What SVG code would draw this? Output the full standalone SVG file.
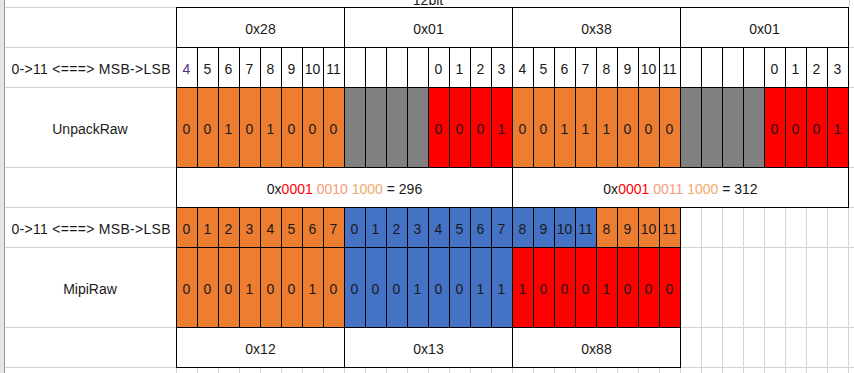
<svg xmlns="http://www.w3.org/2000/svg" width="854" height="373" viewBox="0 0 854 373">
<style>
.grid{stroke:#d4d4d4;stroke-width:1;fill:none}
.c{stroke:#000;stroke-width:1}
.w{fill:#fff}.o{fill:#ED7D31}.g{fill:#808080}.r{fill:#FF0000}.b{fill:#4472C4}
.t{font-family:"Liberation Sans","Noto Sans",sans-serif;font-size:14px;text-anchor:middle;fill:#1a1a1a}
</style>
<rect width="854" height="373" fill="#fff"/>
<g id="sheet-grid">
<rect x="0" y="0" width="4" height="373" fill="#e6e6e6"/>
<line x1="4.5" y1="0" x2="4.5" y2="373" stroke="#9a9a9a"/>
<path class="grid" d="M5 7.5H176M5 47.5H176M5 87.5H176M5 167.5H176M5 207.5H176M5 247.5H176M5 327.5H176M5 367.5H176
M849 47.5H854M849 87.5H854M849 167.5H854M849 207.5H854M680 247.5H854M680 327.5H854M680 367.5H854
M849.5 0V7M701.5 207V373M722.5 207V373M743.5 207V373M764.5 207V373M785.5 207V373M806.5 207V373M827.5 207V373M848.5 207V373
M176.5 367V373M197.5 367V373M218.5 367V373M239.5 367V373M260.5 367V373M281.5 367V373M302.5 367V373M323.5 367V373M344.5 367V373M365.5 367V373M386.5 367V373M407.5 367V373M428.5 367V373M449.5 367V373M470.5 367V373M491.5 367V373M512.5 367V373M533.5 367V373M554.5 367V373M575.5 367V373M596.5 367V373M617.5 367V373M638.5 367V373M659.5 367V373M680.5 367V373"/>
</g>
<text class="t" x="428" y="5">12bit</text>
<g id="labels">
<text class="t" x="91" y="74" textLength="159" lengthAdjust="spacing">0-&gt;11 &lt;===&gt; MSB-&gt;LSB</text>
<text class="t" x="90" y="134">UnpackRaw</text>
<text class="t" x="91" y="234" textLength="159" lengthAdjust="spacing">0-&gt;11 &lt;===&gt; MSB-&gt;LSB</text>
<text class="t" x="90" y="294">MipiRaw</text>
</g>
<g id="row-bytes">
<rect class="c w" x="176.5" y="7.5" width="168" height="40"/>
<rect class="c w" x="344.5" y="7.5" width="168" height="40"/>
<rect class="c w" x="512.5" y="7.5" width="168" height="40"/>
<rect class="c w" x="680.5" y="7.5" width="168" height="40"/>
<text class="t" x="260.5" y="34">0x28</text>
<text class="t" x="428.5" y="34">0x01</text>
<text class="t" x="596.5" y="34">0x38</text>
<text class="t" x="764.5" y="34">0x01</text>
</g>
<g id="row-bitindex">
<rect class="c w" x="176.5" y="47.5" width="21" height="40"/><rect class="c w" x="197.5" y="47.5" width="21" height="40"/><rect class="c w" x="218.5" y="47.5" width="21" height="40"/><rect class="c w" x="239.5" y="47.5" width="21" height="40"/><rect class="c w" x="260.5" y="47.5" width="21" height="40"/><rect class="c w" x="281.5" y="47.5" width="21" height="40"/><rect class="c w" x="302.5" y="47.5" width="21" height="40"/><rect class="c w" x="323.5" y="47.5" width="21" height="40"/>
<rect class="c w" x="344.5" y="47.5" width="21" height="40"/><rect class="c w" x="365.5" y="47.5" width="21" height="40"/><rect class="c w" x="386.5" y="47.5" width="21" height="40"/><rect class="c w" x="407.5" y="47.5" width="21" height="40"/><rect class="c w" x="428.5" y="47.5" width="21" height="40"/><rect class="c w" x="449.5" y="47.5" width="21" height="40"/><rect class="c w" x="470.5" y="47.5" width="21" height="40"/><rect class="c w" x="491.5" y="47.5" width="21" height="40"/>
<rect class="c w" x="512.5" y="47.5" width="21" height="40"/><rect class="c w" x="533.5" y="47.5" width="21" height="40"/><rect class="c w" x="554.5" y="47.5" width="21" height="40"/><rect class="c w" x="575.5" y="47.5" width="21" height="40"/><rect class="c w" x="596.5" y="47.5" width="21" height="40"/><rect class="c w" x="617.5" y="47.5" width="21" height="40"/><rect class="c w" x="638.5" y="47.5" width="21" height="40"/><rect class="c w" x="659.5" y="47.5" width="21" height="40"/>
<rect class="c w" x="680.5" y="47.5" width="21" height="40"/><rect class="c w" x="701.5" y="47.5" width="21" height="40"/><rect class="c w" x="722.5" y="47.5" width="21" height="40"/><rect class="c w" x="743.5" y="47.5" width="21" height="40"/><rect class="c w" x="764.5" y="47.5" width="21" height="40"/><rect class="c w" x="785.5" y="47.5" width="21" height="40"/><rect class="c w" x="806.5" y="47.5" width="21" height="40"/><rect class="c w" x="827.5" y="47.5" width="21" height="40"/>
<text class="t" x="186.5" y="74" style="fill:#5B2C83">4</text><text class="t" x="207.5" y="74">5</text><text class="t" x="228.5" y="74">6</text><text class="t" x="249.5" y="74">7</text><text class="t" x="270.5" y="74">8</text><text class="t" x="291.5" y="74">9</text><text class="t" x="312.5" y="74">10</text><text class="t" x="333.5" y="74">11</text>
<text class="t" x="438.5" y="74">0</text><text class="t" x="459.5" y="74">1</text><text class="t" x="480.5" y="74">2</text><text class="t" x="501.5" y="74">3</text>
<text class="t" x="522.5" y="74">4</text><text class="t" x="543.5" y="74">5</text><text class="t" x="564.5" y="74">6</text><text class="t" x="585.5" y="74">7</text><text class="t" x="606.5" y="74">8</text><text class="t" x="627.5" y="74">9</text><text class="t" x="648.5" y="74">10</text><text class="t" x="669.5" y="74">11</text>
<text class="t" x="774.5" y="74">0</text><text class="t" x="795.5" y="74">1</text><text class="t" x="816.5" y="74">2</text><text class="t" x="837.5" y="74">3</text>
</g>
<g id="row-unpackraw">
<rect class="c o" x="176.5" y="87.5" width="21" height="80"/><rect class="c o" x="197.5" y="87.5" width="21" height="80"/><rect class="c o" x="218.5" y="87.5" width="21" height="80"/><rect class="c o" x="239.5" y="87.5" width="21" height="80"/><rect class="c o" x="260.5" y="87.5" width="21" height="80"/><rect class="c o" x="281.5" y="87.5" width="21" height="80"/><rect class="c o" x="302.5" y="87.5" width="21" height="80"/><rect class="c o" x="323.5" y="87.5" width="21" height="80"/>
<rect class="c g" x="344.5" y="87.5" width="21" height="80"/><rect class="c g" x="365.5" y="87.5" width="21" height="80"/><rect class="c g" x="386.5" y="87.5" width="21" height="80"/><rect class="c g" x="407.5" y="87.5" width="21" height="80"/>
<rect class="c r" x="428.5" y="87.5" width="21" height="80"/><rect class="c r" x="449.5" y="87.5" width="21" height="80"/><rect class="c r" x="470.5" y="87.5" width="21" height="80"/><rect class="c r" x="491.5" y="87.5" width="21" height="80"/>
<rect class="c o" x="512.5" y="87.5" width="21" height="80"/><rect class="c o" x="533.5" y="87.5" width="21" height="80"/><rect class="c o" x="554.5" y="87.5" width="21" height="80"/><rect class="c o" x="575.5" y="87.5" width="21" height="80"/><rect class="c o" x="596.5" y="87.5" width="21" height="80"/><rect class="c o" x="617.5" y="87.5" width="21" height="80"/><rect class="c o" x="638.5" y="87.5" width="21" height="80"/><rect class="c o" x="659.5" y="87.5" width="21" height="80"/>
<rect class="c g" x="680.5" y="87.5" width="21" height="80"/><rect class="c g" x="701.5" y="87.5" width="21" height="80"/><rect class="c g" x="722.5" y="87.5" width="21" height="80"/><rect class="c g" x="743.5" y="87.5" width="21" height="80"/>
<rect class="c r" x="764.5" y="87.5" width="21" height="80"/><rect class="c r" x="785.5" y="87.5" width="21" height="80"/><rect class="c r" x="806.5" y="87.5" width="21" height="80"/><rect class="c r" x="827.5" y="87.5" width="21" height="80"/>
<text class="t" x="186.5" y="134">0</text><text class="t" x="207.5" y="134">0</text><text class="t" x="228.5" y="134">1</text><text class="t" x="249.5" y="134">0</text><text class="t" x="270.5" y="134">1</text><text class="t" x="291.5" y="134">0</text><text class="t" x="312.5" y="134">0</text><text class="t" x="333.5" y="134">0</text>
<text class="t" x="438.5" y="134">0</text><text class="t" x="459.5" y="134">0</text><text class="t" x="480.5" y="134">0</text><text class="t" x="501.5" y="134">1</text>
<text class="t" x="522.5" y="134">0</text><text class="t" x="543.5" y="134">0</text><text class="t" x="564.5" y="134">1</text><text class="t" x="585.5" y="134">1</text><text class="t" x="606.5" y="134">1</text><text class="t" x="627.5" y="134">0</text><text class="t" x="648.5" y="134">0</text><text class="t" x="669.5" y="134">0</text>
<text class="t" x="774.5" y="134">0</text><text class="t" x="795.5" y="134">0</text><text class="t" x="816.5" y="134">0</text><text class="t" x="837.5" y="134">1</text>
</g>
<g id="row-values">
<rect class="c w" x="176.5" y="167.5" width="336" height="40"/>
<rect class="c w" x="512.5" y="167.5" width="336" height="40"/>
<text class="t" x="344.5" y="194">0x<tspan style="fill:#FF0000">0001</tspan> <tspan style="fill:#F79A7A">0010</tspan> <tspan style="fill:#F4A76A">1000</tspan> = 296</text>
<text class="t" x="680.5" y="194">0x<tspan style="fill:#FF0000">0001</tspan> <tspan style="fill:#F79A7A">0011</tspan> <tspan style="fill:#F4A76A">1000</tspan> = 312</text>
</g>
<g id="row-mipi-index">
<rect class="c o" x="176.5" y="207.5" width="21" height="40"/><rect class="c o" x="197.5" y="207.5" width="21" height="40"/><rect class="c o" x="218.5" y="207.5" width="21" height="40"/><rect class="c o" x="239.5" y="207.5" width="21" height="40"/><rect class="c o" x="260.5" y="207.5" width="21" height="40"/><rect class="c o" x="281.5" y="207.5" width="21" height="40"/><rect class="c o" x="302.5" y="207.5" width="21" height="40"/><rect class="c o" x="323.5" y="207.5" width="21" height="40"/>
<rect class="c b" x="344.5" y="207.5" width="21" height="40"/><rect class="c b" x="365.5" y="207.5" width="21" height="40"/><rect class="c b" x="386.5" y="207.5" width="21" height="40"/><rect class="c b" x="407.5" y="207.5" width="21" height="40"/><rect class="c b" x="428.5" y="207.5" width="21" height="40"/><rect class="c b" x="449.5" y="207.5" width="21" height="40"/><rect class="c b" x="470.5" y="207.5" width="21" height="40"/><rect class="c b" x="491.5" y="207.5" width="21" height="40"/>
<rect class="c b" x="512.5" y="207.5" width="21" height="40"/><rect class="c b" x="533.5" y="207.5" width="21" height="40"/><rect class="c b" x="554.5" y="207.5" width="21" height="40"/><rect class="c b" x="575.5" y="207.5" width="21" height="40"/>
<rect class="c o" x="596.5" y="207.5" width="21" height="40"/><rect class="c o" x="617.5" y="207.5" width="21" height="40"/><rect class="c o" x="638.5" y="207.5" width="21" height="40"/><rect class="c o" x="659.5" y="207.5" width="21" height="40"/>
<text class="t" x="186.5" y="234">0</text><text class="t" x="207.5" y="234">1</text><text class="t" x="228.5" y="234">2</text><text class="t" x="249.5" y="234">3</text><text class="t" x="270.5" y="234">4</text><text class="t" x="291.5" y="234">5</text><text class="t" x="312.5" y="234">6</text><text class="t" x="333.5" y="234">7</text>
<text class="t" x="354.5" y="234">0</text><text class="t" x="375.5" y="234">1</text><text class="t" x="396.5" y="234">2</text><text class="t" x="417.5" y="234">3</text><text class="t" x="438.5" y="234">4</text><text class="t" x="459.5" y="234">5</text><text class="t" x="480.5" y="234">6</text><text class="t" x="501.5" y="234">7</text>
<text class="t" x="522.5" y="234">8</text><text class="t" x="543.5" y="234">9</text><text class="t" x="564.5" y="234">10</text><text class="t" x="585.5" y="234">11</text>
<text class="t" x="606.5" y="234">8</text><text class="t" x="627.5" y="234">9</text><text class="t" x="648.5" y="234">10</text><text class="t" x="669.5" y="234">11</text>
</g>
<g id="row-mipiraw">
<rect class="c o" x="176.5" y="247.5" width="21" height="80"/><rect class="c o" x="197.5" y="247.5" width="21" height="80"/><rect class="c o" x="218.5" y="247.5" width="21" height="80"/><rect class="c o" x="239.5" y="247.5" width="21" height="80"/><rect class="c o" x="260.5" y="247.5" width="21" height="80"/><rect class="c o" x="281.5" y="247.5" width="21" height="80"/><rect class="c o" x="302.5" y="247.5" width="21" height="80"/><rect class="c o" x="323.5" y="247.5" width="21" height="80"/>
<rect class="c b" x="344.5" y="247.5" width="21" height="80"/><rect class="c b" x="365.5" y="247.5" width="21" height="80"/><rect class="c b" x="386.5" y="247.5" width="21" height="80"/><rect class="c b" x="407.5" y="247.5" width="21" height="80"/><rect class="c b" x="428.5" y="247.5" width="21" height="80"/><rect class="c b" x="449.5" y="247.5" width="21" height="80"/><rect class="c b" x="470.5" y="247.5" width="21" height="80"/><rect class="c b" x="491.5" y="247.5" width="21" height="80"/>
<rect class="c r" x="512.5" y="247.5" width="21" height="80"/><rect class="c r" x="533.5" y="247.5" width="21" height="80"/><rect class="c r" x="554.5" y="247.5" width="21" height="80"/><rect class="c r" x="575.5" y="247.5" width="21" height="80"/><rect class="c r" x="596.5" y="247.5" width="21" height="80"/><rect class="c r" x="617.5" y="247.5" width="21" height="80"/><rect class="c r" x="638.5" y="247.5" width="21" height="80"/><rect class="c r" x="659.5" y="247.5" width="21" height="80"/>
<text class="t" x="186.5" y="294">0</text><text class="t" x="207.5" y="294">0</text><text class="t" x="228.5" y="294">0</text><text class="t" x="249.5" y="294">1</text><text class="t" x="270.5" y="294">0</text><text class="t" x="291.5" y="294">0</text><text class="t" x="312.5" y="294">1</text><text class="t" x="333.5" y="294">0</text>
<text class="t" x="354.5" y="294">0</text><text class="t" x="375.5" y="294">0</text><text class="t" x="396.5" y="294">0</text><text class="t" x="417.5" y="294">1</text><text class="t" x="438.5" y="294">0</text><text class="t" x="459.5" y="294">0</text><text class="t" x="480.5" y="294">1</text><text class="t" x="501.5" y="294">1</text>
<text class="t" x="522.5" y="294">1</text><text class="t" x="543.5" y="294">0</text><text class="t" x="564.5" y="294">0</text><text class="t" x="585.5" y="294">0</text><text class="t" x="606.5" y="294">1</text><text class="t" x="627.5" y="294">0</text><text class="t" x="648.5" y="294">0</text><text class="t" x="669.5" y="294">0</text>
</g>
<g id="row-mipi-bytes">
<rect class="c w" x="176.5" y="327.5" width="168" height="40"/>
<rect class="c w" x="344.5" y="327.5" width="168" height="40"/>
<rect class="c w" x="512.5" y="327.5" width="168" height="40"/>
<text class="t" x="260.5" y="354">0x12</text>
<text class="t" x="428.5" y="354">0x13</text>
<text class="t" x="596.5" y="354">0x88</text>
</g>
</svg>
